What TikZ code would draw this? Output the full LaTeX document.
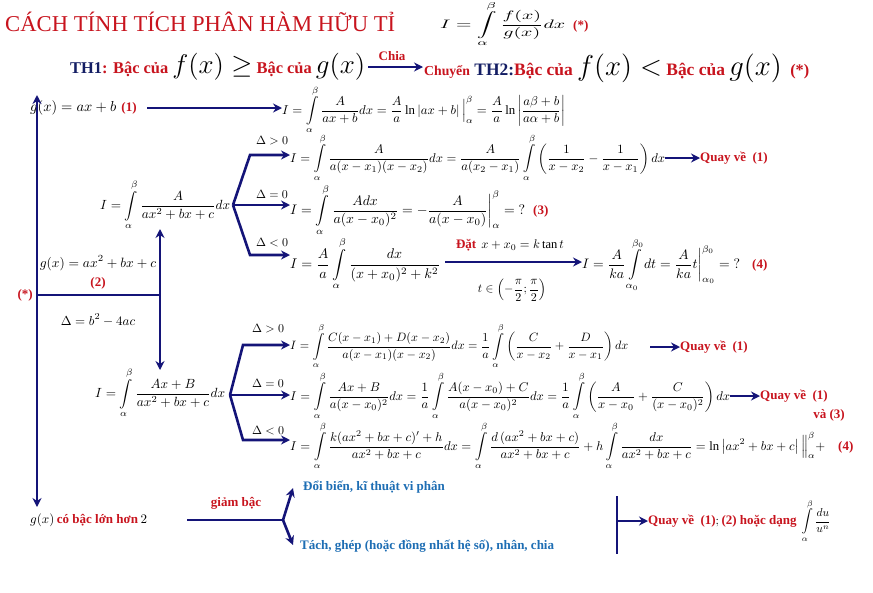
\documentclass[tikz,border=0pt]{standalone}
\usepackage{amsmath}
\usepackage{fontspec}
\setmainfont{Liberation Serif}
\usetikzlibrary{arrows.meta}
\definecolor{rd}{RGB}{200,20,30}
\definecolor{nv}{RGB}{20,20,120}
\definecolor{bt}{RGB}{30,110,180}
\definecolor{dn}{RGB}{20,30,100}
\newcommand{\fw}[2]{\resizebox{#1pt}{!}{$\displaystyle #2$}}
\newcommand{\mth}[2]{\scalebox{#1}{$\displaystyle #2$}}
\newcommand{\Int}{\int\limits_{\alpha}^{\beta}}
\tikzset{
 ln/.style={line width=2.6pt,draw=nv},
 ar/.style={line width=2.6pt,draw=nv,-{Stealth[length=9pt,width=9pt]}},
 lab/.style={inner sep=0pt,anchor=west},
 rt/.style={inner sep=0pt,anchor=west,text=rd,font=\bfseries\fontsize{13}{15}\selectfont},
 bl/.style={inner sep=0pt,anchor=west,text=bt,font=\bfseries\fontsize{13}{15}\selectfont},
}
\begin{document}
\begin{tikzpicture}[x=1pt,y=-1pt]
\useasboundingbox[fill=white] (0,0) rectangle (873,592);
% title
\node[lab] (tt) at (5,22) {\resizebox{390pt}{!}{\textcolor{rd}{CÁCH TÍNH TÍCH PHÂN HÀM HỮU TỈ}}};
\node[lab,anchor=north west] (tf) at (440,1) {\resizebox*{125pt}{46pt}{$\displaystyle I=\Int\frac{f(x)}{g(x)}dx$}};
\node[rt] (ts) at (573,26) {(*)};
% TH row
\node[lab] (th1) at (70,67) {\resizebox{295pt}{!}{\bfseries\fontsize{14}{16}\selectfont\textcolor{dn}{TH1}\textcolor{rd}{: Bậc của} \mth{1.6}{f(x)\geq} \textcolor{rd}{Bậc của} \mth{1.6}{g(x)}}};
\coordinate (c1) at (368,67);
\coordinate (c2) at (423,67);
\draw[ar] (c1) -- (c2);
\node[rt,anchor=south] (chia) at (392,61) {Chia};
\node[lab] (th2) at (424,68) {\resizebox{385pt}{!}{\bfseries\fontsize{14}{16}\selectfont\textcolor{rd}{\fontsize{11}{13}\selectfont Chuyển} \textcolor{dn}{TH2:}\textcolor{rd}{Bậc của} \mth{1.6}{f(x)<} \textcolor{rd}{Bậc của} \mth{1.6}{g(x)} \textcolor{rd}{\fontsize{13}{15}\selectfont\ (*)}}};
% row (1)
\node[lab] (g1) at (30,108) {\mth{1.45}{g(x)=ax+b}\ \ \textcolor{rd}{\bfseries\fontsize{13}{15}\selectfont (1)}};
\node[lab] (f1) at (282,110) {\fw{283}{I=\Int\frac{A}{ax+b}dx=\frac{A}{a}\ln\left|ax+b\right|\Big|_{\alpha}^{\beta}=\frac{A}{a}\ln\left|\frac{a\beta+b}{a\alpha+b}\right|}};
\coordinate (g1e) at (147,108);
\draw[ar] (g1e) -- (f1.west|-g1e);
% left spine
\coordinate (top) at (37,95);
\coordinate (bot) at (37,507);
\coordinate (mid) at (37,295);
\draw[ar] (mid) -- (top);
\draw[ar] (mid) -- (bot);
\node[rt,anchor=east] (star) at (33,295) {(*)};
\coordinate (jn) at (160,295);
\draw[ln] (mid) -- (jn);
\node[lab,anchor=center] (g2) at (98,263) {\mth{1.35}{g(x)=ax^2+bx+c}};
\node[rt,anchor=center] (n2) at (98,283) {(2)};
\node[lab,anchor=center] (dl) at (98,320) {\mth{1.3}{\Delta=b^2-4ac}};
% I1
\node[lab] (I1) at (100,205) {\fw{130}{I=\Int\frac{A}{ax^2+bx+c}dx}};
\coordinate (I1b) at (160,229);
\draw[ar] (jn) -- (I1b);
\coordinate (b1) at (233,205);
\node[lab] (r1) at (290,158) {\fw{375}{I=\Int\frac{A}{a(x-x_1)(x-x_2)}dx=\frac{A}{a(x_2-x_1)}\Int\left(\frac{1}{x-x_2}-\frac{1}{x-x_1}\right)dx}};
\node[lab] (r2) at (290,210) {\fw{235}{I=\Int\frac{Adx}{a(x-x_0)^2}=-\frac{A}{a(x-x_0)}\bigg|_{\alpha}^{\beta}=\;?}};
\node[lab] (r3) at (290,264) {\fw{150}{I=\frac{A}{a}\Int\frac{dx}{(x+x_0)^2+k^2}}};
\draw[ar] (b1) -- (250,155) -- (r1.west|-250,155);
\draw[ar] (b1) -- (r2.west|-b1);
\draw[ar] (b1) -- (250,255) -- (r3.west|-250,255);
\node[lab,anchor=center] (d1) at (272,141) {\mth{1.2}{\Delta>0}};
\node[lab,anchor=center] (d2) at (272,194) {\mth{1.2}{\Delta=0}};
\node[lab,anchor=center] (d3) at (272,243) {\mth{1.2}{\Delta<0}};
\node[rt] (q1) at (700,158) {Quay về\ \ (1)};
\draw[ar] (r1.east) -- (q1.west);
\node[rt] (n3) at (533,211) {(3)};
\node[lab] (r3b) at (582,265) {\fw{158}{I=\frac{A}{ka}\int\limits_{\alpha_0}^{\beta_0}dt=\frac{A}{ka}t\bigg|_{\alpha_0}^{\beta_0}=\;?}};
\coordinate (r3e) at (445,262);
\draw[ar] (r3e) -- (r3b.west|-r3e);
\node[lab,anchor=center] (dat) at (510,245) {\textcolor{rd}{\bfseries\fontsize{13}{15}\selectfont Đặt}\ \ \mth{1.25}{x+x_0=k\tan t}};
\node[lab,anchor=center] (tin) at (512,290) {\mth{1.2}{t\in\left(-\frac{\pi}{2};\frac{\pi}{2}\right)}};
\node[rt] (n4) at (752,265) {(4)};
% I2
\node[lab] (I2) at (95,393) {\fw{130}{I=\Int\frac{Ax+B}{ax^2+bx+c}dx}};
\coordinate (I2t) at (160,370);
\draw[ar] (jn) -- (I2t);
\coordinate (b2) at (230,395);
\node[lab] (s1) at (290,346) {\fw{338}{I=\Int\frac{C(x-x_1)+D(x-x_2)}{a(x-x_1)(x-x_2)}dx=\frac{1}{a}\Int\left(\frac{C}{x-x_2}+\frac{D}{x-x_1}\right)dx}};
\node[lab] (s2) at (290,396) {\fw{440}{I=\Int\frac{Ax+B}{a(x-x_0)^2}dx=\frac{1}{a}\Int\frac{A(x-x_0)+C}{a(x-x_0)^2}dx=\frac{1}{a}\Int\left(\frac{A}{x-x_0}+\frac{C}{(x-x_0)^2}\right)dx}};
\node[lab] (s3) at (290,446) {\fw{535}{I=\Int\frac{k(ax^2+bx+c)'+h}{ax^2+bx+c}dx=\Int\frac{d\,(ax^2+bx+c)}{ax^2+bx+c}+h\Int\frac{dx}{ax^2+bx+c}=\ln\left|ax^2+bx+c\right|\Big\|_{\alpha}^{\beta}+}};
\node[rt] (n4b) at (838,447) {(4)};
\draw[ar] (b2) -- (243,345) -- (s1.west|-243,345);
\draw[ar] (b2) -- (s2.west|-b2);
\draw[ar] (b2) -- (243,440) -- (s3.west|-243,440);
\node[lab,anchor=center] (e1) at (268,329) {\mth{1.2}{\Delta>0}};
\node[lab,anchor=center] (e2) at (268,383) {\mth{1.2}{\Delta=0}};
\node[lab,anchor=center] (e3) at (268,431) {\mth{1.2}{\Delta<0}};
\node[rt] (q2) at (680,347) {Quay về\ \ (1)};
\coordinate (s1e) at (650,347);
\draw[ar] (s1e) -- (q2.west);
\node[rt] (q3) at (760,396) {Quay về\ \ (1)};
\node[rt,anchor=center] (va) at (829,415) {và (3)};
\draw[ar] (s2.east) -- (q3.west);
% bottom
\node[lab] (g3) at (30,520) {\mth{1.3}{g(x)}\ \textcolor{rd}{\bfseries\fontsize{13}{15}\selectfont có bậc lớn hơn}\ \mth{1.3}{2}};
\coordinate (fk) at (283,520);
\coordinate (g3e) at (187,520);
\draw[ln] (g3e) -- (fk);
\node[rt,anchor=center] (gb) at (236,503) {giảm bậc};
\node[bl] (db) at (303,487) {Đổi biến, kĩ thuật vi phân};
\node[bl] (tg) at (300,546) {Tách, ghép (hoặc đồng nhất hệ số), nhân, chia};
\draw[ar] (fk) -- (293,488);
\draw[ar] (fk) -- (293,545);
\coordinate (vb1) at (617,496);
\coordinate (vb2) at (617,554);
\draw[ln,line width=2pt] (vb1) -- (vb2);
\node[lab] (qf) at (648,521) {\textcolor{rd}{\bfseries\fontsize{13}{15}\selectfont Quay về\ \ (1)}\mth{1.2}{;} \textcolor{rd}{\bfseries\fontsize{13}{15}\selectfont (2) hoặc dạng}\ \ \mth{1.15}{\Int\frac{du}{u^n}}};
\coordinate (vm) at (617,521);
\draw[ar] (vm) -- (qf.west);
\end{tikzpicture}
\end{document}
